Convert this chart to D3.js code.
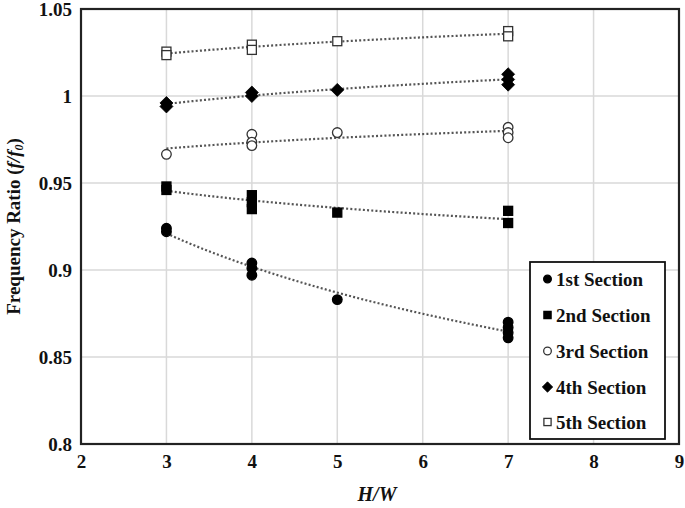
<!DOCTYPE html>
<html><head><meta charset="utf-8">
<script src="https://cdn.jsdelivr.net/npm/d3@7"></script>
<style>body{margin:0;background:#fff}svg{display:block}</style>
</head><body>
<script>
const xTicks = [2,3,4,5,6,7,8,9];
const yTicks = [0.8,0.85,0.9,0.95,1,1.05];
const yTickLabels = ["0.8","0.85","0.9","0.95","1","1.05"];
const seriesNames = ["1st Section","2nd Section","3rd Section","4th Section","5th Section"];
const sec1X = [3,3,4,4,4,5,7,7,7,7];
const sec1Y = [0.924,0.922,0.904,0.901,0.897,0.883,0.870,0.867,0.864,0.861];
const sec2X = [3,3,4,4,4,5,7,7];
const sec2Y = [0.948,0.946,0.943,0.939,0.935,0.933,0.934,0.927];
const sec3X = [3,4,4,4,5,7,7,7];
const sec3Y = [0.9665,0.978,0.9735,0.9715,0.979,0.982,0.979,0.976];
const sec4X = [3,3,4,4,5,7,7,7];
const sec4Y = [0.996,0.994,1.002,1.000,1.0035,1.0125,1.0095,1.0065];
const sec5X = [3,3,4,4,5,7,7];
const sec5Y = [1.0255,1.0235,1.0295,1.0265,1.0315,1.0373,1.0343];

const series = [
  {name: seriesNames[0], xs: sec1X, ys: sec1Y, shape: "circle", fill: "#000"},
  {name: seriesNames[1], xs: sec2X, ys: sec2Y, shape: "square", fill: "#000"},
  {name: seriesNames[2], xs: sec3X, ys: sec3Y, shape: "circle", fill: "#fff"},
  {name: seriesNames[3], xs: sec4X, ys: sec4Y, shape: "diamond", fill: "#000"},
  {name: seriesNames[4], xs: sec5X, ys: sec5Y, shape: "square", fill: "#fff"}
];

const W = 685, H = 508;
const L = 81, R = 679, T = 9, B = 444;
const svg = d3.select("body").append("svg").attr("width", W).attr("height", H);
const x = d3.scaleLinear().domain([2,9]).range([L,R]);
const y = d3.scaleLinear().domain([0.8,1.05]).range([B,T]);
const font = "'Liberation Serif','Times New Roman',serif";

// gridlines
const g = svg.append("g");
g.selectAll(".vg").data(xTicks.slice(1,-1)).enter().append("line")
  .attr("x1", d=>x(d)).attr("x2", d=>x(d)).attr("y1", T).attr("y2", B)
  .attr("stroke", "#d9d9d9").attr("stroke-width", 1.5);
g.selectAll(".hg").data(yTicks.slice(1,-1)).enter().append("line")
  .attr("y1", d=>y(d)).attr("y2", d=>y(d)).attr("x1", L).attr("x2", R)
  .attr("stroke", "#d9d9d9").attr("stroke-width", 1.5);

// axes (labels only)
const xAxis = d3.axisBottom(x).tickValues(xTicks).tickSize(0).tickPadding(11).tickFormat(d3.format("d"));
const gx = svg.append("g").attr("transform", `translate(0,${B})`).call(xAxis);
gx.select(".domain").remove();
gx.selectAll("text").attr("font-family", font).attr("font-weight", "bold").attr("font-size", 19).attr("fill", "#111");
const yAxis = d3.axisLeft(y).tickValues(yTicks).tickSize(0).tickPadding(9).tickFormat((d,i)=>yTickLabels[i]);
const gy = svg.append("g").attr("transform", `translate(${L},0)`).call(yAxis);
gy.select(".domain").remove();
gy.selectAll("text").attr("font-family", font).attr("font-weight", "bold").attr("font-size", 19).attr("fill", "#111");

// trendlines (logarithmic least-squares fit)
function logFit(xs, ys) {
  const lx = xs.map(Math.log);
  const mx = d3.mean(lx), my = d3.mean(ys);
  let sxy = 0, sxx = 0;
  lx.forEach((v,i)=>{ sxy += (v-mx)*(ys[i]-my); sxx += (v-mx)*(v-mx); });
  const b = sxy/sxx, a = my - b*mx;
  return v => a + b*Math.log(v);
}
const line = d3.line().x(d=>x(d[0])).y(d=>y(d[1]));
series.forEach(s => {
  const f = logFit(s.xs, s.ys);
  const pts = d3.range(3, 7.001, 0.05).map(v=>[v, f(v)]);
  svg.append("path").attr("d", line(pts)).attr("fill", "none")
    .attr("stroke", "#555").attr("stroke-width", 2.2).attr("stroke-dasharray", "2,2.2");
});

// markers
function drawMarker(sel, shape, fill, cx, cy, scale) {
  const k = scale || 1;
  if (shape === "circle") {
    sel.append("circle").attr("cx", cx).attr("cy", cy).attr("r", 4.8*k)
      .attr("fill", fill).attr("stroke", fill === "#000" ? "#000" : "#333").attr("stroke-width", 1.3);
  } else if (shape === "square") {
    const s = 9*k;
    sel.append("rect").attr("x", cx-s/2).attr("y", cy-s/2).attr("width", s).attr("height", s)
      .attr("fill", fill).attr("stroke", fill === "#000" ? "#000" : "#333").attr("stroke-width", 1.3);
  } else {
    const s = 6.5*k;
    sel.append("path").attr("d", `M${cx},${cy-s}L${cx+s},${cy}L${cx},${cy+s}L${cx-s},${cy}Z`)
      .attr("fill", fill).attr("stroke", "#000").attr("stroke-width", 0.8);
  }
}
series.forEach(s => {
  const gs = svg.append("g");
  s.xs.forEach((xv,i) => drawMarker(gs, s.shape, s.fill, x(xv), y(s.ys[i]), 1));
});

// plot border
svg.append("rect").attr("x", L).attr("y", T).attr("width", R-L).attr("height", B-T)
  .attr("fill", "none").attr("stroke", "#222").attr("stroke-width", 2.2);

// legend
const lg = svg.append("g");
lg.append("rect").attr("x", 530).attr("y", 262).attr("width", 135).attr("height", 177)
  .attr("fill", "#fff").attr("stroke", "#111").attr("stroke-width", 1.8);
const legY = [279, 315, 351, 387, 422];
series.forEach((s,i) => {
  drawMarker(lg, s.shape, s.fill, 547.5, legY[i], 0.8);
  lg.append("text").attr("x", 556).attr("y", legY[i]).attr("dy", "0.35em")
    .attr("font-family", font).attr("font-weight", "bold").attr("font-size", 19).attr("fill", "#111")
    .text(s.name);
});

// axis titles
svg.append("text").attr("x", (L+R)/2 - 3).attr("y", 501)
  .attr("text-anchor", "middle").attr("font-family", font).attr("font-weight", "bold")
  .attr("font-style", "italic").attr("font-size", 20).attr("fill", "#111").text("H/W");
const yt = svg.append("text").attr("transform", `translate(20,${(T+B)/2}) rotate(-90)`)
  .attr("text-anchor", "middle").attr("font-family", font).attr("font-weight", "bold")
  .attr("font-size", 19).attr("fill", "#111");
yt.append("tspan").text("Frequency Ratio (");
yt.append("tspan").attr("font-style", "italic").text("f/f");
yt.append("tspan").attr("font-style", "italic").attr("font-size", 12).attr("dy", 3).text("0");
yt.append("tspan").attr("dy", -3).text(")");
</script>
</body></html>
